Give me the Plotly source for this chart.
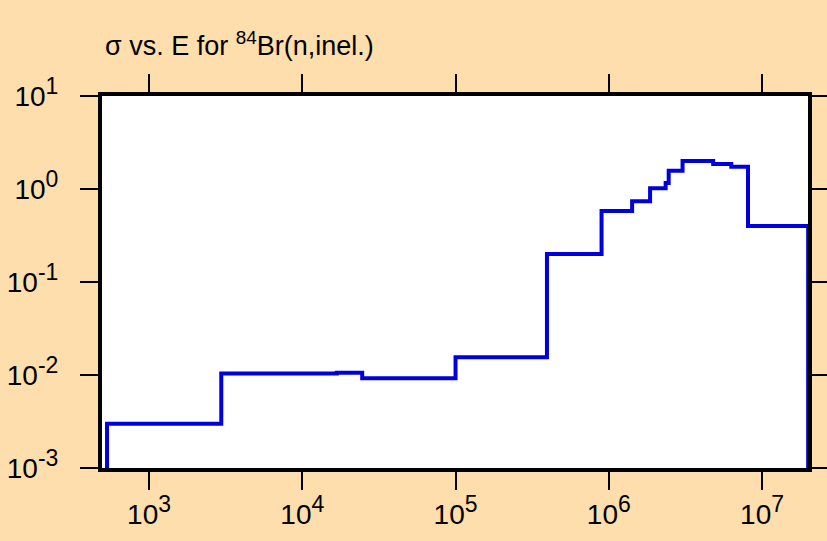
import plotly.graph_objects as go

# step edges (eV) and cross sections (b)
energy = [532, 2960, 1.68e4, 2.46e4, 1.0e5, 3.95e5, 8.97e5, 1.42e6, 1.86e6,
          2.35e6, 2.46e6, 3.03e6, 4.8e6, 6.3e6, 8.1e6, 2.0e7]
sigma = [3.0e-3, 1.04e-2, 1.06e-2, 9.2e-3, 1.55e-2, 0.2, 0.58, 0.74, 1.02,
         1.16, 1.57, 2.0, 1.86, 1.73, 0.40]

x_ticks = [1e3, 1e4, 1e5, 1e6, 1e7]
x_exp = ["3", "4", "5", "6", "7"]
y_ticks = [1e-3, 1e-2, 1e-1, 1e0, 1e1]
y_exp = ["-3", "-2", "-1", "0", "1"]


def pow_label(e):
    return "10<sup><span style='font-size:23px'>" + e + "</span></sup>"


# drop to the floor at both ends of the histogram
xs = [energy[0]] + energy
ys = [1e-4] + sigma + [1e-4]

fig = go.Figure()
fig.add_trace(go.Scatter(x=xs, y=ys, mode="lines", line_shape="hv",
                         line=dict(color="#0000DD", width=4), showlegend=False))

bg = "#FDDEAC"
fig.update_layout(
    width=827, height=541,
    paper_bgcolor=bg, plot_bgcolor="white",
    margin=dict(l=102, r=19, t=96, b=73),
    font=dict(family="Liberation Sans, Arial, sans-serif", size=28, color="black"),
    title=dict(text="σ vs. E for <sup>84</sup>Br(n,inel.)", x=105/827, xanchor="left",
               xref="container", y=1 - 46/541, yanchor="middle", yref="container",
               font=dict(size=27)),
)
fig.update_xaxes(type="log", range=[2.693, 7.30], tickvals=x_ticks,
                 ticktext=[pow_label(e) for e in x_exp],
                 ticks="outside", ticklen=18, tickwidth=2, tickcolor="black",
                 showline=True, linewidth=4, linecolor="black", mirror="allticks",
                 showgrid=False, zeroline=False, automargin=False)
fig.update_yaxes(type="log", range=[-3, 1], tickvals=y_ticks,
                 ticktext=[pow_label(e) for e in y_exp],
                 ticks="outside", ticklen=18, tickwidth=2, tickcolor="black",
                 showline=True, linewidth=4, linecolor="black", mirror="allticks",
                 showgrid=False, zeroline=False, ticklabelstandoff=16, automargin=False)

fig.write_html("out.html", config={"displayModeBar": False},
               post_script="document.body.style.margin='0';")
